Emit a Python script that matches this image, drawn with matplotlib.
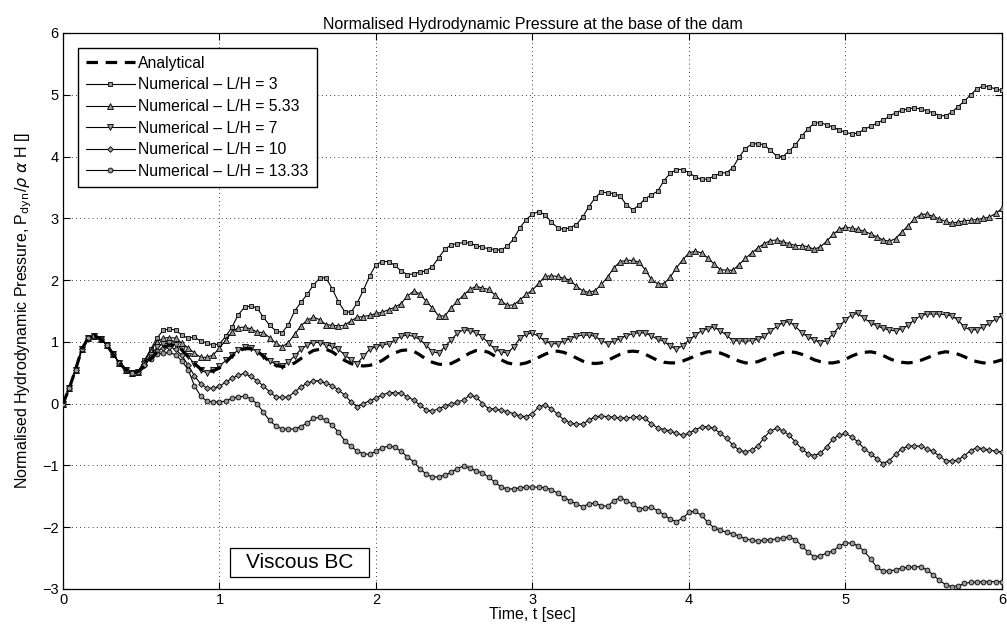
import numpy as np
import matplotlib
matplotlib.use("Agg")
import matplotlib.pyplot as plt
from matplotlib.patches import Rectangle

plt.rcParams['font.family'] = ['Liberation Sans', 'DejaVu Sans']

time_step = 0.04
n_points = 151
time = np.round(np.arange(n_points) * time_step, 2)

# shared response for t = 0 .. 0.48
start = [0.00, 0.25, 0.55, 0.88, 1.06, 1.10, 1.05, 0.95, 0.80, 0.66, 0.55, 0.49, 0.52]

analytical = start + [
    0.60, 0.72, 0.83, 0.91, 0.95, 0.94, 0.87, 0.76, 0.65, 0.56, 0.52, 0.53, 0.58,
    0.67, 0.77, 0.85, 0.89, 0.89, 0.85, 0.77, 0.68, 0.62, 0.60, 0.61, 0.66, 0.73, 0.80, 0.86, 0.88, 0.88, 0.84, 0.77, 0.70, 0.65, 0.62, 0.61, 0.62, 0.65,
    0.70, 0.77, 0.82, 0.86, 0.87, 0.85, 0.79, 0.72, 0.67, 0.64, 0.63, 0.65, 0.70, 0.76, 0.82, 0.86, 0.86, 0.83, 0.77, 0.71, 0.66, 0.64, 0.64, 0.66, 0.70,
    0.75, 0.80, 0.84, 0.85, 0.83, 0.79, 0.74, 0.69, 0.66, 0.65, 0.66, 0.70, 0.75, 0.80, 0.84, 0.85, 0.84, 0.80, 0.75, 0.70, 0.67, 0.66, 0.66, 0.69, 0.73,
    0.77, 0.81, 0.84, 0.84, 0.82, 0.78, 0.73, 0.69, 0.66, 0.66, 0.68, 0.72, 0.76, 0.80, 0.83, 0.84, 0.83, 0.80, 0.76, 0.71, 0.68, 0.66, 0.66, 0.68, 0.72,
    0.77, 0.81, 0.83, 0.84, 0.82, 0.78, 0.73, 0.69, 0.67, 0.66, 0.67, 0.70, 0.74, 0.78, 0.82, 0.84, 0.83, 0.80, 0.76, 0.71, 0.68, 0.66, 0.66, 0.68, 0.71,
]

lh_3 = start + [
    0.70, 0.88, 1.06, 1.19, 1.21, 1.19, 1.11, 1.06, 1.08, 1.01, 0.98, 0.95, 0.97,
    1.09, 1.24, 1.44, 1.56, 1.58, 1.55, 1.40, 1.27, 1.18, 1.15, 1.28, 1.50, 1.64, 1.77, 1.92, 2.03, 2.04, 1.86, 1.65, 1.49, 1.48, 1.63, 1.84, 2.07, 2.25,
    2.30, 2.30, 2.24, 2.15, 2.09, 2.10, 2.13, 2.15, 2.22, 2.36, 2.50, 2.57, 2.59, 2.61, 2.60, 2.56, 2.53, 2.51, 2.49, 2.49, 2.55, 2.67, 2.85, 2.98, 3.07,
    3.11, 3.06, 2.94, 2.85, 2.82, 2.85, 2.90, 3.02, 3.19, 3.33, 3.43, 3.41, 3.40, 3.36, 3.22, 3.14, 3.21, 3.32, 3.38, 3.44, 3.61, 3.73, 3.79, 3.79, 3.74,
    3.67, 3.63, 3.64, 3.68, 3.73, 3.74, 3.82, 3.99, 4.13, 4.20, 4.21, 4.19, 4.10, 4.01, 4.00, 4.09, 4.19, 4.33, 4.45, 4.54, 4.55, 4.51, 4.48, 4.43, 4.39,
    4.37, 4.38, 4.44, 4.49, 4.54, 4.59, 4.65, 4.71, 4.75, 4.77, 4.79, 4.77, 4.74, 4.71, 4.66, 4.66, 4.72, 4.81, 4.90, 5.00, 5.10, 5.14, 5.13, 5.09, 5.07,
]

lh_533 = start + [
    0.67, 0.86, 1.00, 1.06, 1.07, 1.06, 0.98, 0.90, 0.82, 0.75, 0.75, 0.79, 0.90,
    1.03, 1.16, 1.23, 1.24, 1.21, 1.16, 1.15, 1.07, 0.98, 0.92, 0.99, 1.12, 1.26, 1.35, 1.40, 1.36, 1.28, 1.27, 1.26, 1.27, 1.34, 1.40, 1.41, 1.43, 1.46,
    1.48, 1.52, 1.56, 1.62, 1.74, 1.82, 1.78, 1.66, 1.55, 1.42, 1.42, 1.55, 1.66, 1.76, 1.85, 1.90, 1.87, 1.85, 1.76, 1.66, 1.59, 1.60, 1.68, 1.77, 1.84,
    1.95, 2.06, 2.07, 2.06, 2.03, 2.00, 1.90, 1.83, 1.80, 1.83, 1.93, 2.05, 2.20, 2.30, 2.32, 2.32, 2.29, 2.17, 2.01, 1.94, 1.94, 2.05, 2.20, 2.33, 2.44,
    2.47, 2.44, 2.36, 2.26, 2.17, 2.16, 2.16, 2.25, 2.35, 2.44, 2.52, 2.59, 2.64, 2.65, 2.62, 2.59, 2.56, 2.56, 2.54, 2.50, 2.54, 2.63, 2.74, 2.82, 2.86,
    2.84, 2.82, 2.79, 2.75, 2.70, 2.65, 2.63, 2.67, 2.78, 2.88, 2.99, 3.06, 3.07, 3.03, 2.99, 2.95, 2.92, 2.94, 2.96, 2.97, 2.98, 3.00, 3.02, 3.08, 3.16,
]

lh_7 = start + [
    0.64, 0.79, 0.91, 0.97, 0.98, 0.95, 0.88, 0.77, 0.64, 0.54, 0.50, 0.55, 0.61,
    0.70, 0.79, 0.87, 0.91, 0.90, 0.84, 0.77, 0.69, 0.64, 0.61, 0.68, 0.77, 0.88, 0.95, 0.99, 0.99, 0.95, 0.93, 0.88, 0.79, 0.71, 0.65, 0.77, 0.88, 0.92,
    0.95, 0.97, 1.03, 1.09, 1.11, 1.09, 1.04, 0.95, 0.84, 0.82, 0.92, 1.03, 1.14, 1.20, 1.18, 1.15, 1.08, 0.98, 0.88, 0.84, 0.82, 0.92, 1.06, 1.13, 1.14,
    1.09, 1.01, 0.97, 0.97, 1.01, 1.05, 1.09, 1.11, 1.11, 1.09, 1.02, 0.97, 1.01, 1.05, 1.10, 1.13, 1.15, 1.14, 1.10, 1.04, 1.01, 0.93, 0.88, 0.94, 1.03,
    1.11, 1.18, 1.21, 1.24, 1.18, 1.11, 1.02, 1.02, 1.01, 1.02, 1.04, 1.09, 1.17, 1.25, 1.31, 1.33, 1.25, 1.15, 1.08, 1.03, 0.99, 1.02, 1.13, 1.25, 1.36,
    1.44, 1.46, 1.38, 1.31, 1.26, 1.22, 1.19, 1.18, 1.21, 1.27, 1.36, 1.42, 1.45, 1.45, 1.45, 1.44, 1.42, 1.35, 1.24, 1.19, 1.20, 1.24, 1.30, 1.37, 1.42,
]

lh_10 = start + [
    0.62, 0.75, 0.85, 0.90, 0.92, 0.88, 0.78, 0.62, 0.45, 0.32, 0.25, 0.25, 0.28,
    0.35, 0.41, 0.46, 0.49, 0.44, 0.37, 0.29, 0.19, 0.11, 0.10, 0.11, 0.19, 0.27, 0.33, 0.37, 0.37, 0.33, 0.29, 0.22, 0.14, 0.03, -0.05, 0.00, 0.05, 0.09,
    0.14, 0.18, 0.18, 0.17, 0.11, 0.06, -0.02, -0.10, -0.12, -0.08, -0.04, -0.01, 0.03, 0.06, 0.14, 0.11, 0.00, -0.08, -0.09, -0.10, -0.13, -0.16, -0.20, -0.21, -0.16,
    -0.05, -0.02, -0.08, -0.17, -0.26, -0.31, -0.33, -0.33, -0.27, -0.21, -0.20, -0.21, -0.22, -0.23, -0.23, -0.22, -0.21, -0.24, -0.33, -0.39, -0.42, -0.44, -0.48, -0.51, -0.48,
    -0.42, -0.38, -0.37, -0.40, -0.48, -0.56, -0.67, -0.75, -0.78, -0.75, -0.69, -0.55, -0.44, -0.40, -0.44, -0.51, -0.62, -0.73, -0.81, -0.84, -0.80, -0.70, -0.57, -0.51, -0.48,
    -0.54, -0.62, -0.73, -0.81, -0.89, -0.97, -0.92, -0.82, -0.73, -0.69, -0.68, -0.69, -0.73, -0.77, -0.85, -0.92, -0.93, -0.91, -0.84, -0.76, -0.71, -0.73, -0.75, -0.77, -0.78,
]

lh_1333 = start + [
    0.63, 0.73, 0.80, 0.82, 0.83, 0.79, 0.69, 0.55, 0.29, 0.12, 0.04, 0.03, 0.03,
    0.04, 0.09, 0.11, 0.12, 0.08, 0.00, -0.14, -0.27, -0.36, -0.41, -0.41, -0.41, -0.37, -0.31, -0.24, -0.22, -0.27, -0.35, -0.46, -0.60, -0.69, -0.77, -0.81, -0.82, -0.77,
    -0.71, -0.69, -0.70, -0.77, -0.86, -0.94, -1.05, -1.14, -1.19, -1.18, -1.16, -1.11, -1.05, -1.01, -1.04, -1.09, -1.12, -1.19, -1.27, -1.35, -1.38, -1.38, -1.36, -1.35, -1.35,
    -1.35, -1.36, -1.39, -1.45, -1.52, -1.57, -1.62, -1.67, -1.62, -1.61, -1.65, -1.66, -1.57, -1.52, -1.57, -1.63, -1.70, -1.69, -1.68, -1.73, -1.80, -1.87, -1.91, -1.85, -1.76,
    -1.74, -1.81, -1.92, -2.01, -2.05, -2.08, -2.11, -2.14, -2.19, -2.21, -2.22, -2.21, -2.20, -2.19, -2.17, -2.16, -2.20, -2.30, -2.40, -2.48, -2.46, -2.42, -2.38, -2.31, -2.25,
    -2.26, -2.30, -2.39, -2.51, -2.65, -2.71, -2.71, -2.69, -2.66, -2.65, -2.64, -2.64, -2.69, -2.77, -2.86, -2.93, -2.96, -2.95, -2.91, -2.89, -2.89, -2.88, -2.88, -2.88, -2.88,
]

numerical = [
    ("Numerical \u2013 L/H = 3", lh_3, 's', 3.3),
    ("Numerical \u2013 L/H = 5.33", lh_533, '^', 3.9),
    ("Numerical \u2013 L/H = 7", lh_7, 'v', 3.9),
    ("Numerical \u2013 L/H = 10", lh_10, 'D', 2.9),
    ("Numerical \u2013 L/H = 13.33", lh_1333, 'o', 3.5),
]

fig = plt.figure(figsize=(10.07, 6.34), dpi=100)
ax = fig.add_axes([63 / 1007, 45 / 634, 939 / 1007, 556 / 634])

ax.plot(time, analytical, color='black', lw=2.3, linestyle=(0, (3.6, 2.4)),
        label='Analytical', zorder=4)
for label, vals, mk, ms in numerical:
    ax.plot(time, vals, color='black', lw=0.8, marker=mk, markersize=ms,
            markerfacecolor='0.6', markeredgecolor='black', markeredgewidth=0.6,
            label=label, zorder=3)

ax.set_xlim(0, 6)
ax.set_ylim(-3, 6)
ax.set_xticks(range(0, 7))
ax.set_yticks(range(-3, 7))
ax.grid(True, color='black', linestyle=(0, (1, 4)), linewidth=0.6)
ax.tick_params(direction='in', length=5, top=True, right=True, labelsize=10.5,
               width=0.8, pad=3)
for sp in ax.spines.values():
    sp.set_linewidth(0.9)

ax.set_title('Normalised Hydrodynamic Pressure at the base of the dam',
             fontsize=11.5, pad=3)
ax.set_xlabel('Time, t [sec]', fontsize=11.5, labelpad=0)
ax.set_ylabel(r'Normalised Hydrodynamic Pressure, P$_{\mathrm{dyn}}$/$\rho$ $\alpha$ H []',
              fontsize=11.5, labelpad=6)

leg = ax.legend(loc='upper left', bbox_to_anchor=(15 / 939, 541 / 556),
                fontsize=11.3, frameon=True, fancybox=False, edgecolor='black',
                framealpha=1, handlelength=3.1, handletextpad=0.25,
                borderpad=0.5, labelspacing=0.42, borderaxespad=0.0)
leg.get_frame().set_linewidth(1.0)

ax.add_patch(Rectangle((167 / 939, 12 / 556), 139 / 939, 29 / 556,
                       transform=ax.transAxes, facecolor='white',
                       edgecolor='black', linewidth=0.9, zorder=6))
ax.text(236.5 / 939, 27 / 556, 'Viscous BC', transform=ax.transAxes,
        fontsize=15, ha='center', va='center', zorder=7)

fig.savefig('out.png', dpi=100)
